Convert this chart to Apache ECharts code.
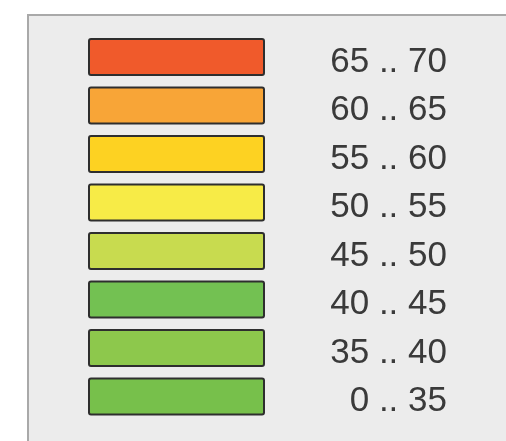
<!DOCTYPE html>
<html>
<head>
<meta charset="utf-8">
<script src="https://cdn.jsdelivr.net/npm/echarts@6/dist/echarts.min.js"></script>
<style>
  html, body { margin: 0; padding: 0; background: #fff; }
  #main { width: 506px; height: 441px; }
</style>
</head>
<body>
<div id="main"></div>
<script>
// legend classes, top to bottom
var ranges = ['65 .. 70', '60 .. 65', '55 .. 60', '50 .. 55', '45 .. 50', '40 .. 45', '35 .. 40', '0 .. 35'];
var colors = ['#f05a2b', '#f8a537', '#fdd222', '#f7eb47', '#c8db4f', '#73c152', '#8dc84c', '#77c04b'];
var swatch = [1, 1, 1, 1, 1, 1, 1, 1];

var chart = echarts.init(document.getElementById('main'));

var option = {
  backgroundColor: '#ffffff',
  animation: false,
  graphic: [{
    type: 'rect',
    z: -10,
    shape: { x: 28, y: 15, width: 500, height: 450 },
    style: { fill: '#ececec', stroke: '#a9a9a9', lineWidth: 2 }
  }],
  grid: { left: 88, right: 241, top: 32.75, bottom: 20.25 },
  xAxis: {
    type: 'value', min: 0, max: 1,
    show: false
  },
  yAxis: {
    type: 'category',
    data: ranges,
    inverse: true,
    position: 'right',
    axisLine: { show: false },
    axisTick: { show: false },
    splitLine: { show: false },
    axisLabel: {
      align: 'right',
      margin: 182,
      formatter: '{t|{value}}',
      rich: {
        t: {
          color: '#3a3a3a',
          fontSize: 35,
          fontFamily: 'Liberation Sans, Arial, sans-serif',
          padding: [10, 0, 0, 0]
        }
      }
    }
  },
  series: [{
    type: 'bar',
    barWidth: 38,
    data: swatch.map(function (v, i) {
      return { value: v, itemStyle: { color: colors[i] } };
    }),
    itemStyle: {
      borderColor: '#2e2e2e',
      borderWidth: 2,
      borderRadius: 2
    }
  }]
};

chart.setOption(option);
</script>
</body>
</html>
